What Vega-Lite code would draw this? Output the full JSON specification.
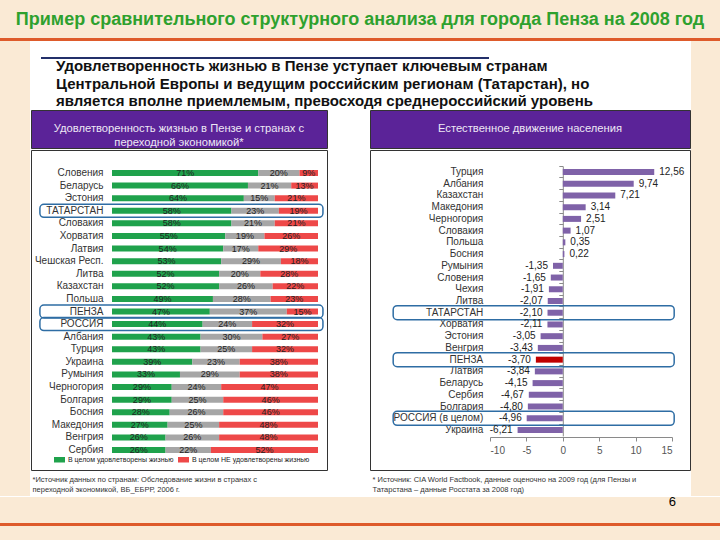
{
  "$schema": "https://vega.github.io/schema/vega-lite/v6.json",
  "background": "white",
  "padding": 0,
  "spacing": 0,
  "config": {
    "font": "Liberation Sans",
    "view": {"stroke": null},
    "locale": {"number": {"decimal": ",", "thousands": " ", "grouping": [3], "currency": ["", ""], "minus": "-"}},
    "title": {"font": "Liberation Sans"}
  },
  "datasets": {
    "sat": [
      {"c": "Словения", "k": 1, "g": "sat", "v": 0.71}, {"c": "Словения", "k": 2, "g": "mid", "v": 0.20}, {"c": "Словения", "k": 3, "g": "not", "v": 0.09},
      {"c": "Беларусь", "k": 1, "g": "sat", "v": 0.66}, {"c": "Беларусь", "k": 2, "g": "mid", "v": 0.21}, {"c": "Беларусь", "k": 3, "g": "not", "v": 0.13},
      {"c": "Эстония", "k": 1, "g": "sat", "v": 0.64}, {"c": "Эстония", "k": 2, "g": "mid", "v": 0.15}, {"c": "Эстония", "k": 3, "g": "not", "v": 0.21},
      {"c": "ТАТАРСТАН", "k": 1, "g": "sat", "v": 0.58}, {"c": "ТАТАРСТАН", "k": 2, "g": "mid", "v": 0.23}, {"c": "ТАТАРСТАН", "k": 3, "g": "not", "v": 0.19},
      {"c": "Словакия", "k": 1, "g": "sat", "v": 0.58}, {"c": "Словакия", "k": 2, "g": "mid", "v": 0.21}, {"c": "Словакия", "k": 3, "g": "not", "v": 0.21},
      {"c": "Хорватия", "k": 1, "g": "sat", "v": 0.55}, {"c": "Хорватия", "k": 2, "g": "mid", "v": 0.19}, {"c": "Хорватия", "k": 3, "g": "not", "v": 0.26},
      {"c": "Латвия", "k": 1, "g": "sat", "v": 0.54}, {"c": "Латвия", "k": 2, "g": "mid", "v": 0.17}, {"c": "Латвия", "k": 3, "g": "not", "v": 0.29},
      {"c": "Чешская Респ.", "k": 1, "g": "sat", "v": 0.53}, {"c": "Чешская Респ.", "k": 2, "g": "mid", "v": 0.29}, {"c": "Чешская Респ.", "k": 3, "g": "not", "v": 0.18},
      {"c": "Литва", "k": 1, "g": "sat", "v": 0.52}, {"c": "Литва", "k": 2, "g": "mid", "v": 0.20}, {"c": "Литва", "k": 3, "g": "not", "v": 0.28},
      {"c": "Казахстан", "k": 1, "g": "sat", "v": 0.52}, {"c": "Казахстан", "k": 2, "g": "mid", "v": 0.26}, {"c": "Казахстан", "k": 3, "g": "not", "v": 0.22},
      {"c": "Польша", "k": 1, "g": "sat", "v": 0.49}, {"c": "Польша", "k": 2, "g": "mid", "v": 0.28}, {"c": "Польша", "k": 3, "g": "not", "v": 0.23},
      {"c": "ПЕНЗА", "k": 1, "g": "sat", "v": 0.47}, {"c": "ПЕНЗА", "k": 2, "g": "mid", "v": 0.37}, {"c": "ПЕНЗА", "k": 3, "g": "not", "v": 0.15},
      {"c": "РОССИЯ", "k": 1, "g": "sat", "v": 0.44}, {"c": "РОССИЯ", "k": 2, "g": "mid", "v": 0.24}, {"c": "РОССИЯ", "k": 3, "g": "not", "v": 0.32},
      {"c": "Албания", "k": 1, "g": "sat", "v": 0.43}, {"c": "Албания", "k": 2, "g": "mid", "v": 0.30}, {"c": "Албания", "k": 3, "g": "not", "v": 0.27},
      {"c": "Турция", "k": 1, "g": "sat", "v": 0.43}, {"c": "Турция", "k": 2, "g": "mid", "v": 0.25}, {"c": "Турция", "k": 3, "g": "not", "v": 0.32},
      {"c": "Украина", "k": 1, "g": "sat", "v": 0.39}, {"c": "Украина", "k": 2, "g": "mid", "v": 0.23}, {"c": "Украина", "k": 3, "g": "not", "v": 0.38},
      {"c": "Румыния", "k": 1, "g": "sat", "v": 0.33}, {"c": "Румыния", "k": 2, "g": "mid", "v": 0.29}, {"c": "Румыния", "k": 3, "g": "not", "v": 0.38},
      {"c": "Черногория", "k": 1, "g": "sat", "v": 0.29}, {"c": "Черногория", "k": 2, "g": "mid", "v": 0.24}, {"c": "Черногория", "k": 3, "g": "not", "v": 0.47},
      {"c": "Болгария", "k": 1, "g": "sat", "v": 0.29}, {"c": "Болгария", "k": 2, "g": "mid", "v": 0.25}, {"c": "Болгария", "k": 3, "g": "not", "v": 0.46},
      {"c": "Босния", "k": 1, "g": "sat", "v": 0.28}, {"c": "Босния", "k": 2, "g": "mid", "v": 0.26}, {"c": "Босния", "k": 3, "g": "not", "v": 0.46},
      {"c": "Македония", "k": 1, "g": "sat", "v": 0.27}, {"c": "Македония", "k": 2, "g": "mid", "v": 0.25}, {"c": "Македония", "k": 3, "g": "not", "v": 0.48},
      {"c": "Венгрия", "k": 1, "g": "sat", "v": 0.26}, {"c": "Венгрия", "k": 2, "g": "mid", "v": 0.26}, {"c": "Венгрия", "k": 3, "g": "not", "v": 0.48},
      {"c": "Сербия", "k": 1, "g": "sat", "v": 0.26}, {"c": "Сербия", "k": 2, "g": "mid", "v": 0.22}, {"c": "Сербия", "k": 3, "g": "not", "v": 0.52}
    ],
    "nat": [
      {"c": "Турция", "v": 12.56}, {"c": "Албания", "v": 9.74}, {"c": "Казахстан", "v": 7.21}, {"c": "Македония", "v": 3.14},
      {"c": "Черногория", "v": 2.51}, {"c": "Словакия", "v": 1.07}, {"c": "Польша", "v": 0.35}, {"c": "Босния", "v": 0.22},
      {"c": "Румыния", "v": -1.35}, {"c": "Словения", "v": -1.65}, {"c": "Чехия", "v": -1.91}, {"c": "Литва", "v": -2.07},
      {"c": "ТАТАРСТАН", "v": -2.10}, {"c": "Хорватия", "v": -2.11}, {"c": "Эстония", "v": -3.05}, {"c": "Венгрия", "v": -3.43},
      {"c": "ПЕНЗА", "v": -3.70}, {"c": "Латвия", "v": -3.84}, {"c": "Беларусь", "v": -4.15}, {"c": "Сербия", "v": -4.67},
      {"c": "Болгария", "v": -4.80}, {"c": "РОССИЯ (в целом)", "v": -4.96}, {"c": "Украина", "v": -6.21}
    ]
  },
  "vconcat": [
    {
      "width": 720, "height": 38,
      "view": {"fill": "#FAEAD5", "stroke": null},
      "data": {"values": [{"t": "Пример сравнительного структурного анализа для города Пенза на 2008 год"}]},
      "mark": {"type": "text", "fontWeight": "bold", "fontSize": 18, "color": "#2EA12E", "dy": 1},
      "encoding": {"text": {"field": "t"}}
    },
    {
      "width": 720, "height": 3,
      "view": {"fill": "#DE5B2B", "stroke": null},
      "data": {"values": []}, "mark": "point"
    },
    {
      "spacing": 0,
      "hconcat": [
        {"width": 30, "height": 455, "view": {"fill": "#FAEAD5", "stroke": null}, "data": {"values": []}, "mark": "point"},
        {
          "spacing": 0,
          "vconcat": [
            {"width": 1, "height": 16, "data": {"values": []}, "mark": "point"},
            {
              "spacing": 9,
              "hconcat": [
                {"width": 1, "height": 2, "data": {"values": []}, "mark": "point"},
                {
                  "width": 448, "height": 2,
                  "view": {"fill": "#23306A", "stroke": null},
                  "title": {
                    "text": ["Удовлетворенность жизнью в Пензе уступает ключевым странам", "Центральной Европы и ведущим российским регионам (Татарстан), но", "является вполне приемлемым, превосходя среднероссийский уровень"],
                    "orient": "bottom", "anchor": "start", "fontSize": 15, "fontWeight": "bold", "color": "#111111",
                    "lineHeight": 17.5, "offset": 0, "dx": 15
                  },
                  "data": {"values": []}, "mark": "point"
                }
              ]
            },
            {
              "spacing": 41,
              "hconcat": [
                {
                  "spacing": 0,
                  "title": {
                    "text": ["*Источник данных по странам: Обследование жизни в странах с", "переходной экономикой, ВБ_ЕБРР, 2006 г."],
                    "orient": "bottom", "anchor": "start", "fontSize": 7.5, "fontWeight": "normal", "color": "#333333",
                    "lineHeight": 10.5, "offset": 5, "dx": 2
                  },
                  "vconcat": [
                    {
                      "width": 296, "height": 38,
                      "view": {"fill": "#5B2398", "stroke": "#333333"},
                      "data": {"values": [{"t": "Удовлетворенность жизнью в Пензе и странах с\nпереходной экономикой*"}]},
                      "mark": {"type": "text", "lineBreak": "\n", "color": "#EEE8F5", "fontSize": 11.2, "lineHeight": 13.5},
                      "encoding": {"text": {"field": "t"}}
                    },
                    {
                      "width": 296, "height": 320,
                      "view": {"fill": "white", "stroke": "#333333"},
                      "data": {"name": "sat"},
                      "transform": [
                        {"stack": "v", "groupby": ["c"], "sort": [{"field": "k", "order": "ascending"}], "offset": "normalize", "as": ["x0", "x1"]},
                        {"calculate": "(datum.x0 + datum.x1) / 2", "as": "xm"}
                      ],
                      "encoding": {
                        "y": {
                          "field": "c", "type": "nominal",
                          "scale": {
                            "domain": ["Словения", "Беларусь", "Эстония", "ТАТАРСТАН", "Словакия", "Хорватия", "Латвия", "Чешская Респ.", "Литва", "Казахстан", "Польша", "ПЕНЗА", "РОССИЯ", "Албания", "Турция", "Украина", "Румыния", "Черногория", "Болгария", "Босния", "Македония", "Венгрия", "Сербия"],
                            "range": [16.7, 306.3], "paddingInner": 0, "paddingOuter": 0
                          },
                          "axis": {"orient": "left", "offset": -81, "domain": false, "ticks": false, "tickSize": 0, "labelPadding": 9, "labelFontSize": 10, "labelColor": "#333333", "title": null}
                        }
                      },
                      "layer": [
                        {
                          "mark": {"type": "bar", "size": 6},
                          "encoding": {
                            "x": {"field": "x0", "type": "quantitative", "scale": {"domain": [0, 1], "range": [81, 287], "nice": false}, "axis": null},
                            "x2": {"field": "x1"},
                            "color": {
                              "field": "g", "type": "nominal",
                              "scale": {"domain": ["sat", "mid", "not"], "range": ["#1FA24C", "#A6A6A6", "#EE4848"]},
                              "legend": {
                                "title": null, "values": ["sat", "not"], "orient": "none", "legendX": 54, "legendY": 454,
                                "direction": "horizontal", "symbolType": "M-1,-0.5H1V0.5H-1Z", "symbolSize": 121, "symbolStrokeWidth": 0,
                                "labelFontSize": 7, "labelColor": "#222222", "columnPadding": 4, "labelOffset": 3, "labelLimit": 250,
                                "labelExpr": "datum.label == 'sat' ? 'В целом удовлетворены жизнью' : 'В целом НЕ удовлетворены жизнью'"
                              }
                            }
                          }
                        },
                        {
                          "transform": [{"filter": "datum.k == 1 && indexof(['ТАТАРСТАН', 'ПЕНЗА', 'РОССИЯ'], datum.c) >= 0"}],
                          "mark": {"type": "bar", "size": 13, "fill": "white", "fillOpacity": 0, "stroke": "#2E6DA4", "strokeWidth": 1.5, "cornerRadius": 4},
                          "encoding": {"x": {"datum": -0.35}, "x2": {"datum": 1.024}}
                        },
                        {
                          "mark": {"type": "text", "fontSize": 9, "color": "#222222"},
                          "encoding": {
                            "x": {"field": "xm", "type": "quantitative"},
                            "text": {"field": "v", "type": "quantitative", "format": ".0%"}
                          }
                        }
                      ]
                    }
                  ]
                },
                {
                  "spacing": 0,
                  "title": {
                    "text": ["* Источник: CIA World Factbook, данные оценочно на 2009 год (для Пензы и", "Татарстана – данные Росстата за 2008 год)"],
                    "orient": "bottom", "anchor": "start", "fontSize": 7.5, "fontWeight": "normal", "color": "#333333",
                    "lineHeight": 10.5, "offset": 5, "dx": 3
                  },
                  "vconcat": [
                    {
                      "width": 320, "height": 38,
                      "view": {"fill": "#5B2398", "stroke": "#333333"},
                      "data": {"values": [{"t": "Естественное движение населения"}]},
                      "mark": {"type": "text", "color": "#EEE8F5", "fontSize": 11.2},
                      "encoding": {"text": {"field": "t"}}
                    },
                    {
                      "width": 320, "height": 320,
                      "view": {"fill": "white", "stroke": "#333333"},
                      "data": {"name": "nat"},
                      "encoding": {
                        "y": {
                          "field": "c", "type": "nominal",
                          "scale": {
                            "domain": ["Турция", "Албания", "Казахстан", "Македония", "Черногория", "Словакия", "Польша", "Босния", "Румыния", "Словения", "Чехия", "Литва", "ТАТАРСТАН", "Хорватия", "Эстония", "Венгрия", "ПЕНЗА", "Латвия", "Беларусь", "Сербия", "Болгария", "РОССИЯ (в целом)", "Украина"],
                            "range": [16.1, 285.9], "paddingInner": 0, "paddingOuter": 0
                          },
                          "axis": {"orient": "left", "offset": -192.8, "domain": true, "domainColor": "#8A8A8A", "ticks": true, "tickColor": "#8A8A8A", "tickSize": 4, "bandPosition": 0, "labelPadding": 76, "labelFontSize": 10, "labelColor": "#333333", "title": null}
                        }
                      },
                      "layer": [
                        {
                          "mark": {"type": "bar", "size": 6},
                          "encoding": {
                            "x": {
                              "field": "v", "type": "quantitative",
                              "scale": {"domain": [-10, 15], "range": [120, 302], "nice": false},
                              "axis": {"orient": "bottom", "offset": -33, "values": [-10, -5, 0, 5, 10, 15], "domainColor": "#8A8A8A", "tickColor": "#8A8A8A", "tickSize": 4, "labelFontSize": 10, "labelColor": "#555555", "grid": false, "title": null, "labelPadding": 4}
                            },
                            "x2": {"datum": 0},
                            "color": {"condition": {"test": "datum.c === 'ПЕНЗА'", "value": "#C00000"}, "value": "#7F62A8"}
                          }
                        },
                        {
                          "transform": [{"filter": "indexof(['ТАТАРСТАН', 'ПЕНЗА', 'РОССИЯ (в целом)'], datum.c) >= 0"}],
                          "mark": {"type": "bar", "size": 14, "fill": "white", "fillOpacity": 0, "stroke": "#2E6DA4", "strokeWidth": 1.5, "cornerRadius": 4},
                          "encoding": {"x": {"datum": -23.3}, "x2": {"datum": 15.3}}
                        },
                        {
                          "transform": [{"filter": "datum.v >= 0"}],
                          "mark": {"type": "text", "align": "left", "dx": 5, "fontSize": 10, "color": "#222222"},
                          "encoding": {"x": {"field": "v", "type": "quantitative"}, "text": {"field": "v", "type": "quantitative", "format": ".2f"}}
                        },
                        {
                          "transform": [{"filter": "datum.v < 0"}],
                          "mark": {"type": "text", "align": "right", "dx": -5, "fontSize": 10, "color": "#222222"},
                          "encoding": {"x": {"field": "v", "type": "quantitative"}, "text": {"field": "v", "type": "quantitative", "format": ".2f"}}
                        }
                      ]
                    }
                  ]
                }
              ]
            }
          ]
        },
        {"width": 32, "height": 455, "view": {"fill": "#FAEAD5", "stroke": null}, "data": {"values": []}, "mark": "point"}
      ]
    },
    {
      "width": 720, "height": 26,
      "view": {"fill": "#FAEAD5", "stroke": null},
      "title": {"text": "6", "orient": "top", "anchor": "end", "offset": -12, "dx": -44, "fontSize": 13, "fontWeight": "normal", "color": "#000000"},
      "data": {"values": []}, "mark": "point"
    },
    {
      "width": 720, "height": 3,
      "view": {"fill": "#DE5B2B", "stroke": null},
      "data": {"values": []}, "mark": "point"
    },
    {
      "width": 720, "height": 14,
      "view": {"fill": "#FAEAD5", "stroke": null},
      "data": {"values": []}, "mark": "point"
    }
  ]
}
